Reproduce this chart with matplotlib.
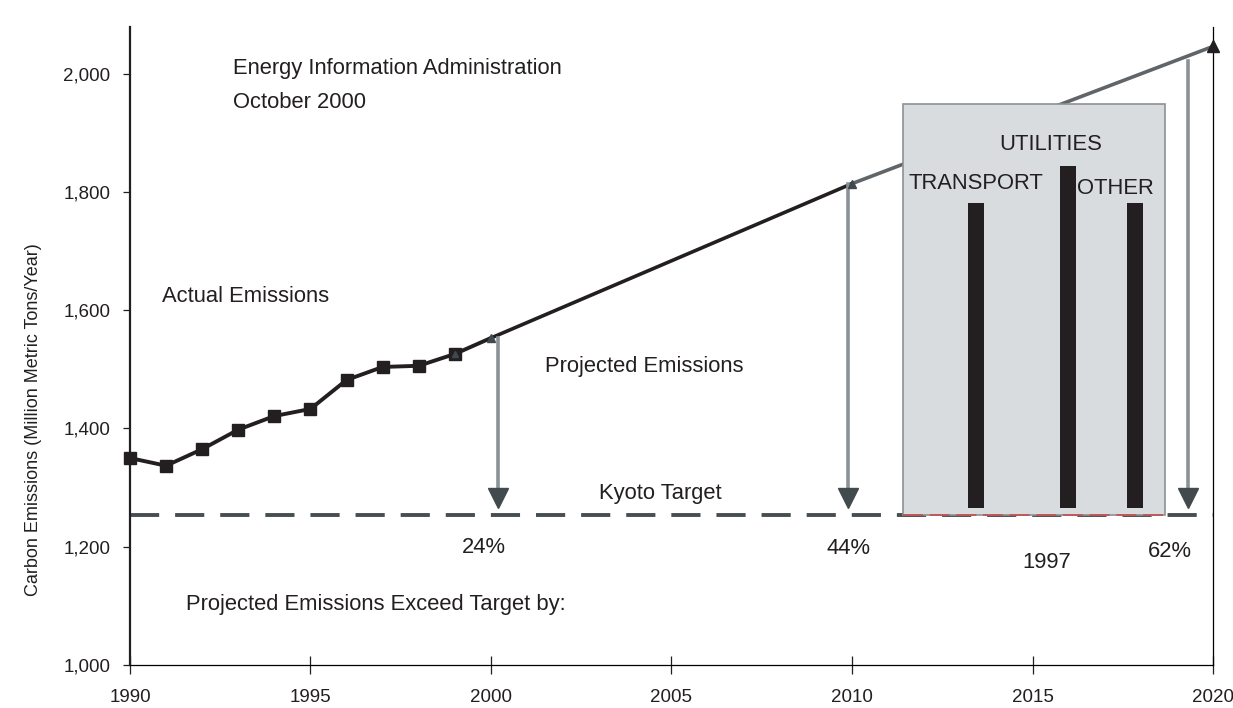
import matplotlib
matplotlib.use("Agg")
import matplotlib.pyplot as plt
from matplotlib.ticker import FuncFormatter
from matplotlib.patches import Rectangle
from matplotlib import font_manager

# ---- data ----
actual_years = [1990, 1991, 1992, 1993, 1994, 1995, 1996, 1997, 1998, 1999, 2000]
actual_vals = [1350, 1337, 1365, 1398, 1421, 1433, 1482, 1504, 1506, 1526, 1553]
proj_years = [2000, 2010, 2020]
proj_vals = [1553, 1814, 2046]
kyoto_target = 1253
arrow_years = [2000.2, 2009.9, 2019.3]
arrow_labels = ["24%", "44%", "62%"]
sector_names = ["TRANSPORT", "UTILITIES", "OTHER"]
sector_x = [2013.43, 2015.98, 2017.84]
sector_top = [1782, 1843, 1782]
sector_bottom = 1266
box_x = [2011.4, 2018.67]
box_y = [1253, 1948]
x_ticks = [1990, 1995, 2000, 2005, 2010, 2015, 2020]
y_ticks = [1000, 1200, 1400, 1600, 1800, 2000]

plt.rcParams['font.family'] = ['Liberation Sans', 'DejaVu Sans']
names = {f.name for f in font_manager.fontManager.ttflist}
narrow = 'Liberation Sans Narrow' if 'Liberation Sans Narrow' in names else 'Liberation Sans'
ylab_size = 15.5 if narrow == 'Liberation Sans Narrow' else 13

fig = plt.figure(figsize=(12.33, 7.08), dpi=100)
ax = fig.add_axes([0.1054, 0.0607, 0.8784, 0.9013])
ax.set_xlim(1990, 2020)
ax.set_ylim(1000, 2079)

txt = '#231f20'
FS = 15.8
# box
ax.add_patch(Rectangle((box_x[0], box_y[0]), box_x[1]-box_x[0], box_y[1]-box_y[0],
                       facecolor='#d8dcdf', edgecolor='#8c9194', lw=1.2, zorder=3))
# sector bars
for x, t in zip(sector_x, sector_top):
    ax.bar(x, t - sector_bottom, bottom=sector_bottom, width=0.44, color='#231f20', zorder=4)
ax.text(2013.43, 1815, sector_names[0], ha='center', va='center', fontsize=FS, color=txt, zorder=5)
ax.text(2015.5, 1881, sector_names[1], ha='center', va='center', fontsize=FS, color=txt, zorder=5)
ax.text(2017.3, 1805, sector_names[2], ha='center', va='center', fontsize=FS, color=txt, zorder=5)

# Kyoto line
ax.plot([1990, 2020], [kyoto_target]*2, color='#474e52', lw=2.8, dashes=(7.5, 4.1), zorder=2)
ax.plot(box_x, [kyoto_target]*2, color='#c0504d', lw=1.2, dashes=(12, 4), zorder=4)

# projected line
ax.plot(proj_years[:2], proj_vals[:2], color='#231f20', lw=2.6, zorder=5)
ax.plot(proj_years[1:], proj_vals[1:], color='#5f6568', lw=2.6, zorder=2)
# actual
ax.plot(actual_years, actual_vals, color='#231f20', lw=2.8, marker='s', ms=9.2,
        markevery=list(range(10)), zorder=6, clip_on=False)
ax.plot([1999], [actual_vals[9]], marker='^', ms=5, color='#3f4a4e', zorder=7, ls='none')
ax.plot(proj_years, proj_vals, marker='^', ls='none', ms=6, color='#3f4a4e', zorder=7, clip_on=False)
ax.plot([2020], [proj_vals[2]], marker='^', ls='none', ms=8, color='#231f20', zorder=7, clip_on=False)

# arrows
heads = [proj_vals[0], proj_vals[1], proj_vals[2] - 25]
for x, top in zip(arrow_years, heads):
    ax.plot([x, x], [top, 1300], color='#8b9297', lw=2.6, zorder=6)
    ax.plot([x], [1282], marker='v', ms=15, color='#434a4e', zorder=7, ls='none')

# texts
ax.text(1992.85, 2008, "Energy Information Administration", fontsize=FS, color=txt, va='center')
ax.text(1992.85, 1952, "October 2000", fontsize=FS, color=txt, va='center')
ax.text(1990.9, 1623, "Actual Emissions", fontsize=FS, color=txt, va='center')
ax.text(2001.5, 1505, "Projected Emissions", fontsize=FS, color=txt, va='center')
ax.text(2004.7, 1290, "Kyoto Target", fontsize=FS, color=txt, va='center', ha='center')
ax.text(1991.55, 1103, "Projected Emissions Exceed Target by:", fontsize=FS, color=txt, va='center')
for x, lab, y in zip([1999.8, 2009.9, 2018.8], arrow_labels, [1199, 1197, 1192]):
    ax.text(x, y, lab, fontsize=FS, color=txt, va='center', ha='center')
ax.text(2015.4, 1173, "1997", fontsize=FS, color=txt, va='center', ha='center')

# axes styling
ax.spines['top'].set_visible(False)
ax.spines['left'].set_linewidth(1.6)
ax.spines['left'].set_color('#231f20')
ax.spines['bottom'].set_linewidth(0.9)
ax.spines['right'].set_linewidth(0.9)
ax.set_xticks(x_ticks)
ax.set_yticks(y_ticks)
ax.yaxis.set_major_formatter(FuncFormatter(lambda v, p: f"{int(v):,}"))
ax.tick_params(axis='both', labelsize=13.5, colors=txt, width=0.9)
ax.tick_params(axis='x', direction='inout', length=13, pad=11)
ax.tick_params(axis='y', direction='out', length=5, pad=9)
ax.set_ylabel("Carbon Emissions (Million Metric Tons/Year)", fontsize=ylab_size,
              color=txt, family=[narrow, 'DejaVu Sans'])
ax.yaxis.set_label_coords(-0.081, 0.385)

fig.savefig("out.png", dpi=100)
